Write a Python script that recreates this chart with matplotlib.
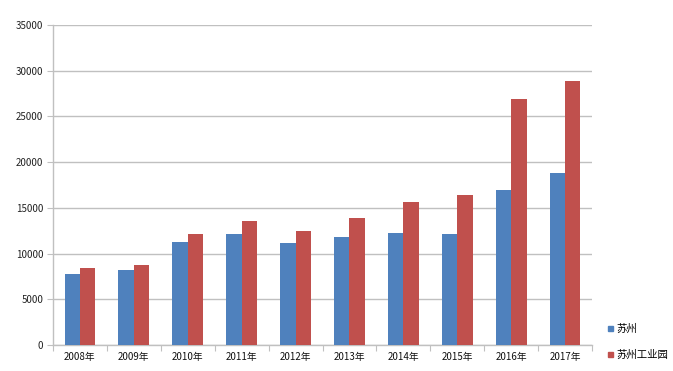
import numpy as np
import matplotlib.pyplot as plt
from matplotlib.patches import Patch

plt.rcParams['font.family'] = ['Noto Sans CJK SC', 'DejaVu Sans']

years = ["2008年", "2009年", "2010年", "2011年", "2012年",
         "2013年", "2014年", "2015年", "2016年", "2017年"]
suzhou = [7800, 8200, 11250, 12100, 11150, 11800, 12250, 12150, 16950, 18850]
sip = [8400, 8750, 12150, 13550, 12500, 13850, 15650, 16400, 26950, 28900]
series_names = ["苏州", "苏州工业园"]

blue = "#4F81BD"
red = "#C0504D"
grid_c = "#C0C0C0"

fig = plt.figure(figsize=(6.73, 3.71), dpi=100)
ax = fig.add_axes([53 / 673, 1 - 345 / 371, 539 / 673, 320 / 371])

x = np.arange(len(years))
w = 0.285
ax.bar(x - w / 2, suzhou, width=w, color=blue, zorder=3)
ax.bar(x + w / 2, sip, width=w, color=red, zorder=3)

ax.set_xlim(-0.5, len(years) - 0.5)
ax.set_ylim(0, 35000)
ax.set_yticks(np.arange(0, 35001, 5000))
ax.yaxis.grid(True, color=grid_c, linewidth=1.0, zorder=0)
ax.tick_params(axis='y', labelsize=7, labelcolor="#222222", length=4,
               width=0.8, pad=3, color=grid_c)

ax.set_xticks(x)
ax.set_xticklabels(years, fontsize=7, color="#111111")
ax.tick_params(axis='x', length=0, pad=5)
ax.set_xticks(np.arange(-0.5, len(years)), minor=True)
ax.tick_params(axis='x', which='minor', length=4, color=grid_c, width=0.8)

for s in ['top', 'right']:
    ax.spines[s].set_visible(False)
for s in ['left', 'bottom']:
    ax.spines[s].set_color(grid_c)
    ax.spines[s].set_linewidth(1.0)

handles = [Patch(color=blue), Patch(color=red)]
fig.legend(handles, series_names, loc='upper left',
           bbox_to_anchor=(604 / 673, 1 - 320 / 371), frameon=False,
           fontsize=7.5, handlelength=0.45, handleheight=0.45,
           handletextpad=0.3, labelspacing=1.5, borderaxespad=0)

fig.savefig("out.png", dpi=100)
